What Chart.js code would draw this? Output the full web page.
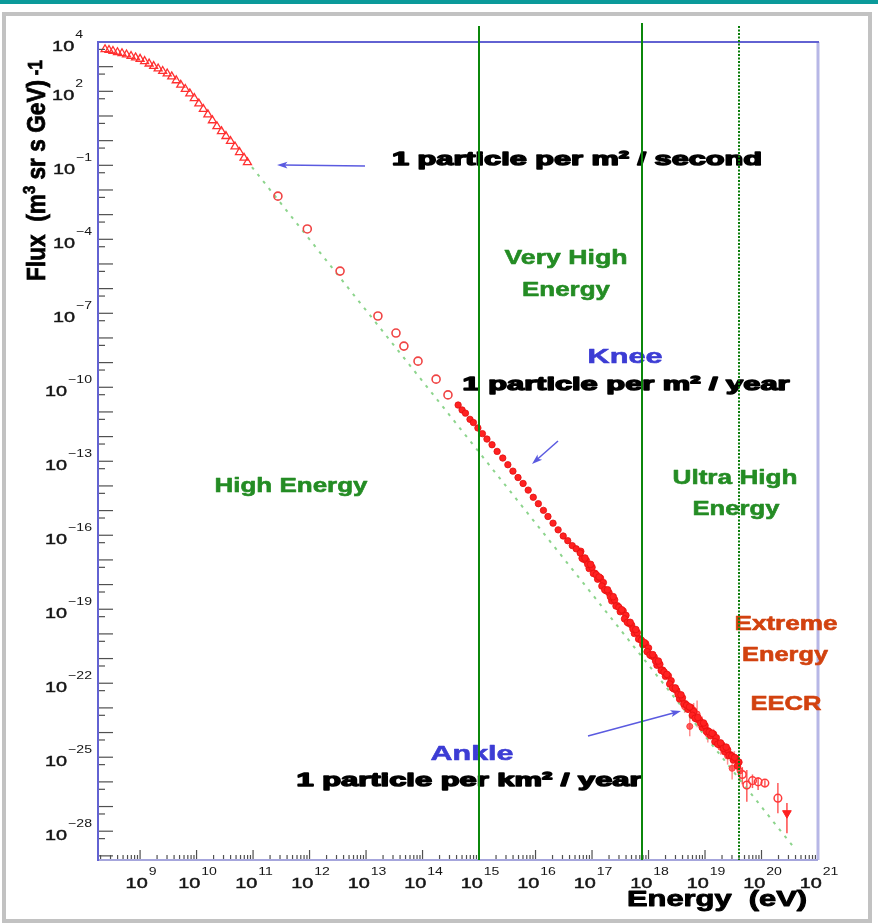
<!DOCTYPE html>
<html>
<head>
<meta charset="utf-8">
<title>Cosmic ray flux</title>
<script src="https://cdn.jsdelivr.net/npm/chart.js@4.4.1/dist/chart.umd.min.js"></script>
<style>
  html, body { margin: 0; padding: 0; background: #fff; }
  #wrap { width: 878px; height: 924px; }
</style>
</head>
<body>
<div id="wrap"><canvas id="c" width="878" height="924"></canvas></div>
<script>
// All values are log10: energy in eV, flux in (m^2 sr s GeV)^-1.

// Low-energy direct measurements (open triangles)
const triLogE = [8.38, 8.45, 8.52, 8.60, 8.68, 8.76, 8.84, 8.92, 9.00, 9.08, 9.16, 9.24, 9.32, 9.40, 9.48, 9.56, 9.64,
                 9.72, 9.80, 9.88, 9.96, 10.04, 10.12, 10.20, 10.28, 10.36, 10.44, 10.52, 10.60, 10.68, 10.76, 10.84, 10.90];
const triLogF = [3.70, 3.67, 3.63, 3.58, 3.54, 3.49, 3.43, 3.37, 3.31, 3.22, 3.12, 3.02, 2.92, 2.82, 2.72, 2.60, 2.44,
                 2.26, 2.09, 1.91, 1.72, 1.50, 1.28, 1.06, 0.82, 0.58, 0.38, 0.18, -0.02, -0.24, -0.47, -0.70, -0.88];

// Balloon / satellite points (open circles)
const circLogE = [11.44, 11.96, 12.54, 13.21, 13.53, 13.67, 13.92, 14.24, 14.45];
const circLogF = [-2.25, -3.58, -5.29, -7.11, -7.80, -8.33, -8.94, -9.67, -10.31];

// Air-shower points around the knee (filled dots)
const kneeLogE = [14.63, 14.70, 14.76, 14.84, 14.90, 14.98, 15.06, 15.14, 15.23, 15.32, 15.42, 15.51, 15.60, 15.69,
                  15.78, 15.87, 15.96, 16.05, 16.14, 16.22, 16.31, 16.40, 16.49, 16.57, 16.65, 16.72, 16.79];
const kneeLogF = [-10.72, -10.92, -11.05, -11.30, -11.43, -11.65, -11.88, -12.10, -12.33, -12.60, -12.87, -13.14, -13.40, -13.66,
                  -13.90, -14.17, -14.46, -14.72, -14.99, -15.24, -15.51, -15.78, -16.03, -16.22, -16.42, -16.55, -16.72];

// Dense air-shower band between the knee and the ankle
const bandLogE = [
  16.80, 16.85, 16.90, 16.95, 17.00, 17.05, 17.10, 17.15, 17.20, 17.25, 17.30, 17.35, 17.40, 17.45, 17.50, 17.55,
  17.60, 17.65, 17.70, 17.75, 17.80, 17.85, 17.90, 17.95, 18.00, 18.05, 18.10, 18.15, 18.20, 18.25, 18.30, 18.35,
  18.40, 18.45, 18.50, 18.55, 18.60, 18.65, 18.70, 18.75, 18.80, 18.85, 18.90, 18.95, 19.00, 19.05, 19.10, 19.15,
  19.20, 19.25, 19.30, 19.35, 19.40, 19.45, 19.50, 19.55, 19.60,
  16.825, 16.875, 16.925, 16.975, 17.025, 17.075, 17.125, 17.175, 17.225, 17.275, 17.325, 17.375, 17.425, 17.475,
  17.525, 17.575, 17.625, 17.675, 17.725, 17.775, 17.825, 17.875, 17.925, 17.975, 18.025, 18.075, 18.125, 18.175,
  18.225, 18.275, 18.325, 18.375, 18.425, 18.475, 18.525, 18.575, 18.625, 18.675, 18.725, 18.775, 18.825, 18.875,
  18.925, 18.975, 19.025, 19.075, 19.125, 19.175, 19.225, 19.275, 19.325, 19.375, 19.425, 19.475, 19.525, 19.575];
const bandLogF = [
  -16.65, -16.97, -17.03, -17.35, -17.30, -17.54, -17.78, -17.74, -17.92, -18.25, -18.33, -18.66, -18.62, -18.86, -19.10, -19.07,
  -19.25, -19.57, -19.64, -19.98, -19.95, -20.20, -20.44, -20.40, -20.57, -20.89, -20.94, -21.27, -21.23, -21.47, -21.72, -21.70,
  -21.90, -22.23, -22.30, -22.64, -22.59, -22.83, -23.06, -22.99, -23.15, -23.45, -23.49, -23.79, -23.72, -23.93, -24.13, -24.06,
  -24.21, -24.48, -24.51, -24.78, -24.70, -24.90, -25.11, -25.05, -25.20,
  -16.93, -16.92, -17.18, -17.18, -17.55, -17.60, -17.69, -18.06, -18.21, -18.21, -18.49, -18.49, -18.87, -18.92,
  -19.02, -19.39, -19.53, -19.53, -19.80, -19.82, -20.21, -20.26, -20.35, -20.72, -20.85, -20.84, -21.10, -21.10,
  -21.48, -21.54, -21.64, -22.03, -22.19, -22.19, -22.46, -22.47, -22.84, -22.89, -22.96, -23.30, -23.42, -23.39,
  -23.63, -23.61, -23.96, -23.97, -24.03, -24.37, -24.47, -24.42, -24.64, -24.59, -24.93, -24.95, -25.01, -25.36];

// Ultra-high-energy points with error bars
const uheLogE  = [18.64, 18.73, 18.80, 18.86, 18.95, 19.05, 19.15, 19.28, 19.40, 19.48, 19.52, 19.62];
const uheLogF  = [-22.95, -23.75, -23.10, -23.25, -23.60, -24.05, -24.10, -24.60, -24.95, -25.45, -25.05, -25.55];
const uheLogLo = [-23.20, -24.15, -23.35, -23.78, -23.85, -24.40, -24.35, -24.90, -25.30, -25.90, -25.35, -26.00];
const uheLogHi = [-22.70, -23.37, -22.80, -22.70, -23.35, -23.75, -23.85, -24.30, -24.65, -25.10, -24.75, -25.20];

// Highest-energy events (open circles) and the last point (filled triangle)
const tailLogE  = [19.66, 19.74, 19.84, 19.94, 20.06, 20.29];
const tailLogF  = [-25.70, -26.13, -25.95, -26.00, -26.05, -26.66];
const tailLogLo = [-26.10, -26.81, -26.25, -26.33, -26.21, -27.27];
const tailLogHi = [-25.40, -25.52, -25.70, -25.81, -25.93, -26.05];
const lastLogE  = [20.45];
const lastLogF  = [-27.27];
const lastLogLo = [-28.08];
const lastLogHi = [-26.86];

// Power-law reference line
const fitLogE = [10.98, 20.58];
const fitLogF = [-1.07, -28.68];

// Region boundaries (vertical lines) and axis labels
const boundaryLogE = [15, 17.88, 19.6];
const xTickExp = [9, 10, 11, 12, 13, 14, 15, 16, 17, 18, 19, 20, 21];
const yTickExp = [4, 2, -1, -4, -7, -10, -13, -16, -19, -22, -25, -28];

const pts = (es, fs) => es.map((e, i) => ({ x: 10 ** e, y: 10 ** fs[i] }));
const pow10 = (a) => a.map(v => 10 ** v);

const RED = '#ff2121';
const FONT = '"Liberation Sans", Arial, sans-serif';

function line(ctx, x1, y1, x2, y2) {
  ctx.beginPath(); ctx.moveTo(x1, y1); ctx.lineTo(x2, y2); ctx.stroke();
}

// Text stretched horizontally to a given width, optionally thickened
function fitText(ctx, text, cx, base, width, font, color, heavy) {
  ctx.save();
  ctx.font = font;
  const w = ctx.measureText(text).width;
  ctx.translate(cx, base);
  ctx.scale(width / w, 1);
  ctx.fillStyle = color;
  ctx.textAlign = 'center';
  ctx.textBaseline = 'alphabetic';
  ctx.fillText(text, 0, 0);
  if (heavy) {
    ctx.strokeStyle = color;
    ctx.lineWidth = heavy;
    ctx.lineJoin = 'round';
    ctx.strokeText(text, 0, 0);
  }
  ctx.restore();
}

function arrow(ctx, x1, y1, x2, y2, color) {
  ctx.save();
  ctx.strokeStyle = color; ctx.fillStyle = color; ctx.lineWidth = 1.5;
  const ang = Math.atan2(y2 - y1, x2 - x1);
  line(ctx, x1, y1, x2 - 6 * Math.cos(ang), y2 - 6 * Math.sin(ang));
  ctx.beginPath();
  ctx.moveTo(x2, y2);
  ctx.lineTo(x2 - 11 * Math.cos(ang - 0.32), y2 - 11 * Math.sin(ang - 0.32));
  ctx.lineTo(x2 - 8 * Math.cos(ang), y2 - 8 * Math.sin(ang));
  ctx.lineTo(x2 - 11 * Math.cos(ang + 0.32), y2 - 11 * Math.sin(ang + 0.32));
  ctx.closePath(); ctx.fill();
  ctx.restore();
}

// "10" with a raised exponent
const TICK_STRETCH = 1.28;
function powerLabel(ctx, exp) {
  const sup = exp < 0 ? '\u2212' + Math.abs(exp) : String(exp);
  ctx.font = '15.5px ' + FONT;
  const wb = ctx.measureText('10').width * TICK_STRETCH;
  ctx.font = '11px ' + FONT;
  const we = ctx.measureText(sup).width * TICK_STRETCH;
  return { sup, wb, we };
}
function drawPower(ctx, exp, left, base, supBase) {
  const { sup, wb } = powerLabel(ctx, exp);
  ctx.save();
  ctx.fillStyle = '#161616';
  ctx.strokeStyle = '#161616';
  ctx.lineWidth = 0.5;
  ctx.textAlign = 'left';
  ctx.textBaseline = 'alphabetic';
  ctx.translate(left, base);
  ctx.scale(TICK_STRETCH, 1);
  ctx.font = '15.5px ' + FONT;
  ctx.fillText('10', 0, 0);
  ctx.strokeText('10', 0, 0);
  ctx.restore();
  ctx.save();
  ctx.fillStyle = '#161616';
  ctx.translate(left + wb + 1, supBase);
  ctx.scale(TICK_STRETCH, 1);
  ctx.font = '11px ' + FONT;
  ctx.fillText(sup, 0, 0);
  ctx.restore();
}

const page = {
  id: 'page',
  beforeDraw(chart) {
    const ctx = chart.ctx;
    ctx.save();
    ctx.fillStyle = '#fff';
    ctx.fillRect(0, 0, chart.width, chart.height);
    ctx.fillStyle = '#0b9a9a';
    ctx.fillRect(0, 0, chart.width, 4);
    ctx.strokeStyle = '#c2c2c2';
    ctx.lineWidth = 4;
    ctx.strokeRect(4, 14, 866, 907);
    ctx.restore();
  }
};

const errorBars = {
  id: 'errorBars',
  beforeDatasetsDraw(chart) {
    const { ctx, scales: { x, y } } = chart;
    chart.data.datasets.forEach((ds) => {
      if (!ds.errLo) return;
      ctx.save();
      ctx.strokeStyle = ds.errColor;
      ctx.lineWidth = 1.5;
      ds.data.forEach((p, i) => {
        const px = x.getPixelForValue(p.x);
        line(ctx, px, y.getPixelForValue(ds.errLo[i]), px, y.getPixelForValue(ds.errHi[i]));
      });
      ctx.restore();
    });
  }
};

const axes = {
  id: 'axes',
  afterDatasetsDraw(chart) {
    const { ctx, chartArea: a, scales: { x, y } } = chart;
    ctx.save();
    // tick marks on the bottom and left axes, pointing inwards
    ctx.strokeStyle = '#505050';
    ctx.lineWidth = 1.2;
    for (let n = 8; n <= 20; n++) {
      for (let k = 1; k <= 9; k++) {
        const px = x.getPixelForValue(k * 10 ** n);
        if (px < a.left + 2 || px > a.right - 1) continue;
        line(ctx, px, a.bottom, px, a.bottom - (k === 1 ? 10 : 5));
      }
    }
    for (let n = -29; n <= 4; n++) {
      const py = y.getPixelForValue(10 ** n);
      if (py >= a.top && py <= a.bottom) line(ctx, a.left, py, a.left + 15, py);
      const ph = y.getPixelForValue(5 * 10 ** (n - 1));
      if (ph >= a.top && ph <= a.bottom - 2) line(ctx, a.left, ph, a.left + 7, ph);
    }
    // frame
    ctx.lineWidth = 3;
    ctx.strokeStyle = '#b7b7e6';
    line(ctx, a.right, a.top, a.right, a.bottom);
    ctx.lineWidth = 2;
    ctx.strokeStyle = '#a6a6dc';
    line(ctx, a.left, a.bottom, a.right, a.bottom);
    ctx.strokeStyle = '#6262d2';
    line(ctx, a.left, a.top, a.right + 1, a.top);
    line(ctx, a.left, a.top - 1, a.left, a.bottom + 1);
    ctx.restore();

    // tick labels
    xTickExp.forEach((e) => {
      const px = x.getPixelForValue(10 ** e);
      const { wb, we } = powerLabel(ctx, e);
      drawPower(ctx, e, px + 1 - (wb + 1 + we) / 2, 888, 875);
    });
    yTickExp.forEach((e) => {
      const py = y.getPixelForValue(10 ** e);
      const { wb, we } = powerLabel(ctx, e);
      const right = e >= 0 ? 83 : 92;
      drawPower(ctx, e, right - we - 1 - wb, py + 8.5, py - 4.5);
    });
  }
};

const notes = {
  id: 'notes',
  afterDraw(chart) {
    const { ctx, chartArea: a, scales: { x } } = chart;
    const BLACK = 'bold 19px ' + FONT;
    const BIG = 'bold 21px ' + FONT;
    const GREEN = '#248c24', BLUE = '#3c3cd4', ORANGE = '#d2420f';

    // axis titles
    fitText(ctx, 'Energy  (eV)', 717, 906, 180, 'bold 22px ' + FONT, '#000', 0.9);

    ctx.save();
    ctx.translate(45, 281);
    ctx.rotate(-Math.PI / 2);
    const runs = [
      { t: 'Flux  (m', f: 'bold 20px ' + FONT, rise: 0 },
      { t: '3', f: 'bold 13px ' + FONT, rise: 8 },
      { t: ' sr s GeV)', f: 'bold 20px ' + FONT, rise: 0 },
      { t: ' -1', f: 'bold 15px ' + FONT, rise: 2 }
    ];
    let total = 0;
    runs.forEach(r => { ctx.font = r.f; r.w = ctx.measureText(r.t).width; total += r.w; });
    ctx.scale(221 / total, 1.3);
    ctx.fillStyle = '#000';
    ctx.strokeStyle = '#000';
    ctx.lineWidth = 0.6;
    ctx.textAlign = 'left';
    ctx.textBaseline = 'alphabetic';
    let cx = 0;
    runs.forEach(r => {
      ctx.font = r.f;
      ctx.fillText(r.t, cx, -r.rise);
      ctx.strokeText(r.t, cx, -r.rise);
      cx += r.w;
    });
    ctx.restore();

    // annotations
    fitText(ctx, '1 particle per m\u00b2 / second', 577, 165, 370, BLACK, '#000', 1.4);
    fitText(ctx, 'Very High', 566, 264, 123, BIG, GREEN, 0.6);
    fitText(ctx, 'Energy', 566, 296, 88, BIG, GREEN, 0.6);
    fitText(ctx, 'Knee', 625, 363, 75, BIG, BLUE, 0.6);
    fitText(ctx, '1 particle per m\u00b2 / year', 626, 390, 327, BLACK, '#000', 1.4);
    fitText(ctx, 'High Energy', 291, 492, 153, BIG, GREEN, 0.6);
    fitText(ctx, 'Ultra High', 735, 484, 125, BIG, GREEN, 0.6);
    fitText(ctx, 'Energy', 736, 515, 87, BIG, GREEN, 0.6);
    fitText(ctx, 'Extreme', 786, 630, 103, BIG, ORANGE, 0.6);
    fitText(ctx, 'Energy', 785, 661, 86, BIG, ORANGE, 0.6);
    fitText(ctx, 'EECR', 786, 710, 71, BIG, ORANGE, 0.6);
    fitText(ctx, 'Ankle', 472, 760, 83, BIG, BLUE, 0.6);
    fitText(ctx, '1 particle per km\u00b2 / year', 469, 786, 345, BLACK, '#000', 1.4);

    arrow(ctx, 365, 166, 277, 165, '#5a5ae0');
    arrow(ctx, 558, 441, 532, 464, '#5a5ae0');
    arrow(ctx, 588, 736, 681, 711, '#5a5ae0');

    // energy-region boundaries
    ctx.save();
    boundaryLogE.forEach((e, i) => {
      const px = Math.round(x.getPixelForValue(10 ** e));
      ctx.strokeStyle = i === 2 ? '#0a7d0a' : '#0b870b';
      ctx.lineWidth = 2;
      ctx.setLineDash(i === 2 ? [2, 1.5] : []);
      line(ctx, px, i === 1 ? 23 : 26, px, a.bottom);
    });
    ctx.restore();
  }
};

new Chart(document.getElementById('c'), {
  type: 'scatter',
  data: {
    datasets: [
      { label: 'direct', data: pts(triLogE, triLogF), pointStyle: 'triangle', pointRadius: 4.6,
        borderColor: '#ff3030', backgroundColor: 'rgba(255,255,255,0)', pointBorderWidth: 1.3 },
      { label: 'balloon', data: pts(circLogE, circLogF), pointStyle: 'circle', pointRadius: 4,
        borderColor: '#f04444', backgroundColor: 'rgba(255,255,255,0)', pointBorderWidth: 1.6 },
      { label: 'knee', data: pts(kneeLogE, kneeLogF), pointStyle: 'circle', pointRadius: 3.2,
        borderColor: '#e01010', backgroundColor: RED, pointBorderWidth: 0.8 },
      { label: 'band', data: pts(bandLogE, bandLogF), pointStyle: 'circle', pointRadius: 3.3,
        borderColor: '#e81010', backgroundColor: RED, pointBorderWidth: 0.8 },
      { label: 'uhe', data: pts(uheLogE, uheLogF), pointStyle: 'circle', pointRadius: 3,
        borderColor: '#ff3a3a', backgroundColor: 'rgba(255,60,60,0.8)', pointBorderWidth: 1,
        errLo: pow10(uheLogLo), errHi: pow10(uheLogHi), errColor: 'rgba(255,70,70,0.6)' },
      { label: 'tail', data: pts(tailLogE, tailLogF), pointStyle: 'circle', pointRadius: 3.8,
        borderColor: '#ff3a3a', backgroundColor: 'rgba(255,255,255,0)', pointBorderWidth: 1.5,
        errLo: pow10(tailLogLo), errHi: pow10(tailLogHi), errColor: 'rgba(255,50,50,0.8)' },
      { label: 'last', data: pts(lastLogE, lastLogF), pointStyle: 'triangle', rotation: 180, pointRadius: 5,
        borderColor: '#ff2020', backgroundColor: '#ff2020', pointBorderWidth: 1,
        errLo: pow10(lastLogLo), errHi: pow10(lastLogHi), errColor: 'rgba(255,40,40,0.85)' },
      { label: 'power law', data: pts(fitLogE, fitLogF), showLine: true, pointRadius: 0,
        borderColor: 'rgba(120,205,120,0.85)', borderWidth: 2, borderDash: [3, 6], order: 10 }
    ]
  },
  options: {
    responsive: false,
    devicePixelRatio: 1,
    animation: false,
    events: [],
    layout: { padding: { left: 98, top: 42, right: 60, bottom: 64 } },
    plugins: { legend: { display: false }, tooltip: { enabled: false } },
    scales: {
      x: { type: 'logarithmic', min: 1.8e8, max: 1e21, display: false },
      y: { type: 'logarithmic', min: 6.8e-30, max: 1e4, display: false }
    }
  },
  plugins: [page, errorBars, axes, notes]
});
</script>
</body>
</html>
